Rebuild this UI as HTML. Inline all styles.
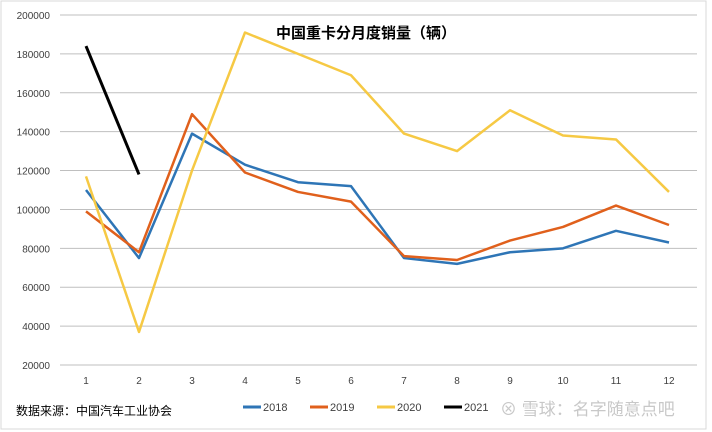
<!DOCTYPE html>
<html><head><meta charset="utf-8"><style>
body{margin:0;background:#fff;}
svg{display:block;font-family:"Liberation Sans","Noto Sans CJK SC",sans-serif;}
</style></head><body>
<svg id="chart" width="712" height="432">
<rect x="1" y="1" width="705" height="428" fill="#fff" stroke="#d9d9d9"/>
<text x="366" y="38" text-anchor="middle" font-size="15" font-weight="bold" fill="#000">中国重卡分月度销量（辆）</text>
<g id="grid"></g><g id="series"></g>
<text x="16" y="415" font-size="12" fill="#000">数据来源：中国汽车工业协会</text>
<g id="legend"></g>
<text x="500" y="415" font-size="17" fill="#c8c8c8">⊗ 雪球：名字随意点吧</text>
</svg>
<script>
const categories=["1","2","3","4","5","6","7","8","9","10","11","12"];
const yTicks=[20000,40000,60000,80000,100000,120000,140000,160000,180000,200000];
const seriesNames=["2018","2019","2020","2021"];
const colors=["#2e75b6","#e0601c","#f6c944","#000000"];
const s2018=[110000,75000,139000,123000,114000,112000,75000,72000,78000,80000,89000,83000];
const s2019=[99000,78000,149000,119000,109000,104000,76000,74000,84000,91000,102000,92000];
const s2020=[117000,37000,120000,191000,180000,169000,139000,130000,151000,138000,136000,109000];
const s2021=[184000,118000];
const NS="http://www.w3.org/2000/svg";
function y(v){return 365-(v-20000)/180000*350;}
function x(i){return 86+i*(669-86)/11;}
function mk(t,a,p){const e=document.createElementNS(NS,t);for(const k in a)e.setAttribute(k,a[k]);p.appendChild(e);return e;}
const grid=document.getElementById('grid');
yTicks.forEach(v=>{
 const l=mk('line',{x1:60,x2:697,y1:y(v),y2:y(v),stroke:'#bfbfbf','stroke-width':1},grid);
 
 
 const t=mk('text',{x:50,y:y(v)+4,'text-anchor':'end','font-size':10,fill:'#404040'},grid);t.textContent=v;
 
 
});
categories.forEach((c,i)=>{
 const t=mk('text',{x:x(i),y:384,'text-anchor':'middle','font-size':10,fill:'#404040'},grid);t.textContent=c;
 
 
});
const sg=document.getElementById('series');
[s2018,s2019,s2020,s2021].forEach((d,k)=>{
 const p=mk('polyline',{points:d.map((v,i)=>x(i)+','+y(v)).join(' '),fill:'none',stroke:colors[k],'stroke-width':k==3?3:2.5,'stroke-linejoin':'round'},sg);
 
 
});
const lg=document.getElementById('legend');
seriesNames.forEach((n,k)=>{
 const lx=243+k*67;
 const l=mk('line',{x1:lx,x2:lx+18,y1:407,y2:407,stroke:colors[k],'stroke-width':3},lg);
 
 
 const t=mk('text',{x:lx+20,y:411,'font-size':11,fill:'#404040'},lg);t.textContent=n;
 
 
});
</script>
</body></html>
